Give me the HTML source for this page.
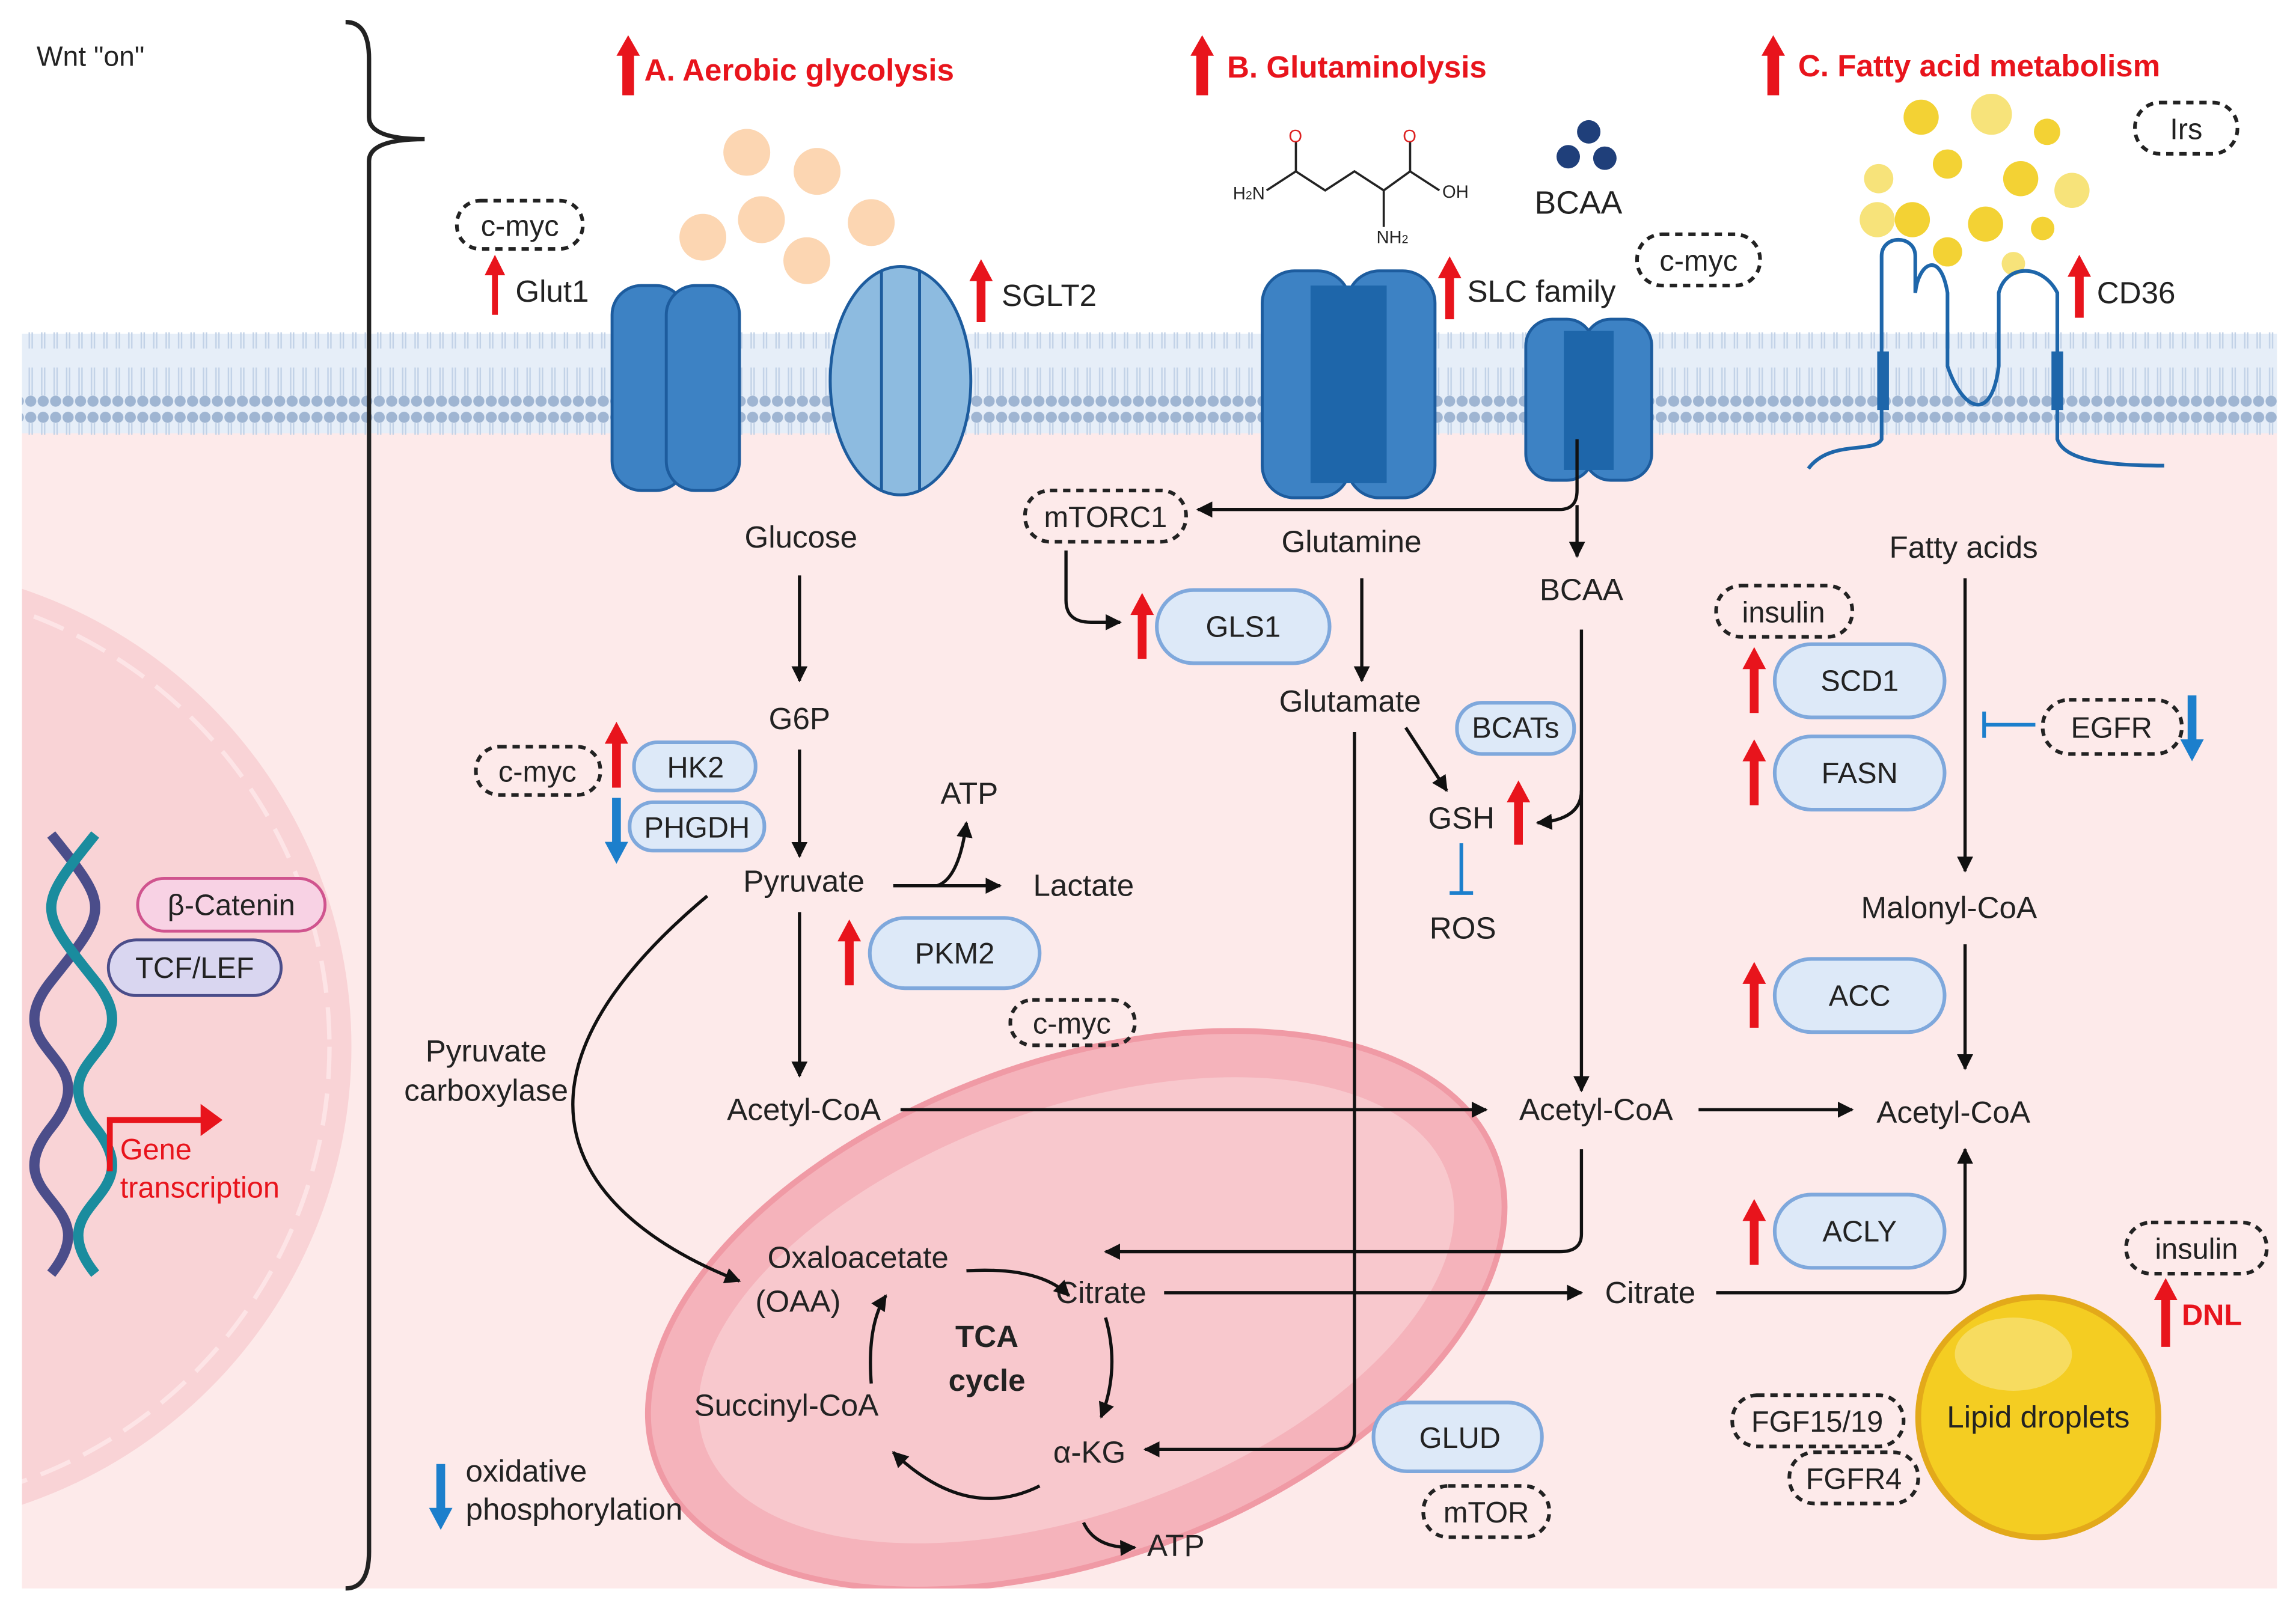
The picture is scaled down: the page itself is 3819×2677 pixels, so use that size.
<!DOCTYPE html>
<html><head><meta charset="utf-8"><style>
html,body{margin:0;padding:0;background:#fff;width:3819px;height:2677px;overflow:hidden;}
svg{display:block;}
text{font-family:"Liberation Sans",sans-serif;fill:#222;}
</style></head><body>
<svg width="3819" height="2677" viewBox="0 0 1568 1099" xmlns="http://www.w3.org/2000/svg">
<defs>
<marker id="ah" viewBox="0 0 10 10" refX="9" refY="5" markerWidth="5" markerHeight="5" orient="auto"><path d="M0,0 L10,5 L0,10 z" fill="#111"/></marker>
<pattern id="dots" width="8.5" height="70" patternUnits="userSpaceOnUse"><circle cx="4" cy="5" r="3.8" fill="#9fb5d2"/><circle cx="4" cy="64" r="3.8" fill="#9fb5d2"/><line x1="3" y1="9" x2="3" y2="28" stroke="#c2d2e7" stroke-width="1"/><line x1="5" y1="9" x2="5" y2="28" stroke="#c2d2e7" stroke-width="1"/><line x1="3" y1="41" x2="3" y2="60" stroke="#c2d2e7" stroke-width="1"/><line x1="5" y1="41" x2="5" y2="60" stroke="#c2d2e7" stroke-width="1"/></pattern>
<clipPath id="cell"><rect x="15" y="290" width="1540" height="795"/></clipPath>
</defs>
<rect width="1568" height="1099" fill="#fff"/>
<rect x="15" y="290" width="1540" height="795" fill="#fdeaea"/>
<g clip-path="url(#cell)">
<circle cx="-90" cy="715" r="330" fill="#f9d3d6"/>
<circle cx="-90" cy="715" r="315" fill="none" stroke="#fde4e6" stroke-width="3" stroke-dasharray="22 10"/>
<ellipse cx="735" cy="895" rx="305" ry="170" transform="rotate(-20 735 895)" fill="#f5b3bb" stroke="#f09aa5" stroke-width="4"/>
<ellipse cx="735" cy="895" rx="270" ry="138" transform="rotate(-20 735 895)" fill="#f8c8cd"/>
</g>
<rect x="15" y="228" width="1540" height="68" fill="#e6eef8"/>
<rect x="15" y="227" width="1540" height="70" fill="url(#dots)"/>
<path d="M236,15 Q252,15 252,40 L252,80 Q252,95 290,95 Q252,95 252,110 L252,1060 Q252,1085 236,1085" fill="none" stroke="#222" stroke-width="3"/>
<text x="25" y="45" font-size="19">Wnt "on"</text>
<path d="M35,570 C75,620 75,620 35,670 C-5,720 75,720 35,770 C-5,820 75,820 35,870" fill="none" stroke="#4b4d8a" stroke-width="7"/>
<path d="M65,570 C25,620 25,620 65,670 C105,720 25,720 65,770 C105,820 25,820 65,870" fill="none" stroke="#1a8c9e" stroke-width="7"/>
<rect x="94" y="600" width="128" height="36" rx="18" fill="#f8d2e4" stroke="#d0548e" stroke-width="2"/>
<text x="158" y="625" font-size="20" text-anchor="middle">β-Catenin</text>
<rect x="74" y="642" width="118" height="38" rx="19" fill="#d9d6f0" stroke="#4b4d8a" stroke-width="2"/>
<text x="133" y="668" font-size="20" text-anchor="middle">TCF/LEF</text>
<path d="M75,800 L75,765 L140,765" fill="none" stroke="#e8141c" stroke-width="4"/>
<path d="M137,754 L152,765 L137,776 z" fill="#e8141c"/>
<text x="82" y="792" font-size="20" style="fill:#e8141c">Gene</text>
<text x="82" y="818" font-size="20" style="fill:#e8141c">transcription</text>
<g fill="#e8141c">
<path d="M425,65 V38 H421 L429,24 L437,38 H433 V65z"/>
<path d="M817,65 V38 H813 L821,24 L829,38 H825 V65z"/>
<path d="M1207,65 V38 H1203 L1211,24 L1219,38 H1215 V65z"/>
</g>
<text x="440" y="55" font-size="21" font-weight="bold" style="fill:#e8141c">A. Aerobic glycolysis</text>
<text x="838" y="53" font-size="21" font-weight="bold" style="fill:#e8141c">B. Glutaminolysis</text>
<text x="1228" y="52" font-size="21" font-weight="bold" style="fill:#e8141c">C. Fatty acid metabolism</text>
<g fill="#fcd6b2"><circle cx="510" cy="104" r="16"/><circle cx="558" cy="117" r="16"/><circle cx="520" cy="150" r="16"/><circle cx="480" cy="162" r="16"/><circle cx="551" cy="178" r="16"/><circle cx="595" cy="152" r="16"/></g>
<path d="M865,130 L885,117 L905,130 L925,117 L945,130 L963,117 M885,117 L885,97 M963,117 L963,97 M963,117 L983,130 M945,130 L945,155" fill="none" stroke="#222" stroke-width="1.5"/>
<text x="880" y="97" font-size="12" style="fill:#d22">O</text><text x="958" y="97" font-size="12" style="fill:#d22">O</text>
<text x="985" y="135" font-size="12">OH</text><text x="842" y="136" font-size="12">H<tspan font-size="8">2</tspan>N</text><text x="940" y="166" font-size="12">NH<tspan font-size="8">2</tspan></text>
<g fill="#1f3f7a"><circle cx="1085" cy="90" r="8"/><circle cx="1071" cy="107" r="8"/><circle cx="1096" cy="108" r="8"/></g>
<text x="1048" y="146" font-size="22">BCAA</text>
<g fill="#f3d234"><circle cx="1312" cy="80" r="12"/><circle cx="1360" cy="78" r="14" fill="#f7e37a"/><circle cx="1398" cy="90" r="9"/><circle cx="1330" cy="112" r="10"/><circle cx="1380" cy="122" r="12"/><circle cx="1283" cy="122" r="10" fill="#f7e37a"/><circle cx="1306" cy="150" r="12"/><circle cx="1356" cy="153" r="12"/><circle cx="1415" cy="130" r="12" fill="#f7e37a"/><circle cx="1395" cy="156" r="8"/><circle cx="1282" cy="150" r="12" fill="#f7e37a"/><circle cx="1330" cy="172" r="10"/><circle cx="1375" cy="180" r="8" fill="#f7e37a"/></g>
<rect x="1458" y="70" width="70" height="35" rx="17" fill="none" stroke="#222" stroke-width="2.5" stroke-dasharray="5 4"/><text x="1493" y="95" font-size="20" text-anchor="middle">Irs</text>
<g stroke="#1d5c9e" stroke-width="2">
<rect x="418" y="195" width="50" height="140" rx="20" fill="#3d82c4"/><rect x="455" y="195" width="50" height="140" rx="20" fill="#3d82c4"/>
<ellipse cx="615" cy="260" rx="48" ry="78" fill="#8dbbe0"/><line x1="602" y1="185" x2="602" y2="335"/><line x1="628" y1="185" x2="628" y2="335"/>
<rect x="862" y="185" width="60" height="155" rx="22" fill="#3d82c4"/><rect x="920" y="185" width="60" height="155" rx="22" fill="#3d82c4"/><rect x="895" y="195" width="52" height="135" fill="#1e66aa" stroke="none"/>
<rect x="1042" y="218" width="46" height="110" rx="18" fill="#3d82c4"/><rect x="1082" y="218" width="46" height="110" rx="18" fill="#3d82c4"/><rect x="1068" y="226" width="34" height="95" fill="#1e66aa" stroke="none"/>
</g>
<path d="M1235,320 C1250,300 1280,310 1285,300 L1285,175 C1285,160 1308,160 1308,175 L1308,200 C1310,180 1325,170 1330,200 L1330,250 C1340,280 1360,290 1365,250 L1365,200 C1370,180 1395,180 1405,200 L1405,300 C1410,315 1440,318 1478,318" fill="none" stroke="#1e66aa" stroke-width="2.5"/>
<rect x="1282" y="240" width="8" height="40" fill="#1e66aa"/><rect x="1401" y="240" width="8" height="40" fill="#1e66aa"/>
<g fill="#e8141c">
<path d="M336,215 V188 H331 L338,174 L345,188 H340 V215z"/>
<path d="M667,220 V192 H662 L670,177 L678,192 H673 V220z"/>
<path d="M987,218 V190 H982 L990,175 L998,190 H993 V218z"/>
<path d="M1417,217 V189 H1412 L1420,174 L1428,189 H1423 V217z"/>
<path d="M418,538 V508 H413 L421,493 L429,508 H424 V538z"/>
<path d="M777,450 V420 H772 L780,405 L788,420 H783 V450z"/>
<path d="M577,673 V643 H572 L580,628 L588,643 H583 V673z"/>
<path d="M1034,577 V548 H1029 L1037,533 L1045,548 H1040 V577z"/>
<path d="M1195,487 V457 H1190 L1198,442 L1206,457 H1201 V487z"/>
<path d="M1195,550 V520 H1190 L1198,505 L1206,520 H1201 V550z"/>
<path d="M1195,702 V672 H1190 L1198,657 L1206,672 H1201 V702z"/>
<path d="M1195,864 V834 H1190 L1198,819 L1206,834 H1201 V864z"/>
<path d="M1476,920 V888 H1471 L1479,873 L1487,888 H1482 V920z"/>
</g>
<g fill="#1c7fcc">
<path d="M418,545 V575 H413 L421,590 L429,575 H424 V545z"/>
<path d="M1494,475 V505 H1489 L1497,520 L1505,505 H1500 V475z"/>
<path d="M298,1000 V1030 H293 L301,1045 L309,1030 H304 V1000z"/>
</g>
<text x="352" y="206" font-size="21">Glut1</text>
<text x="684" y="209" font-size="21">SGLT2</text>
<text x="1002" y="206" font-size="21">SLC family</text>
<text x="1432" y="207" font-size="21">CD36</text>
<g fill="none" stroke="#222" stroke-width="2.5" stroke-dasharray="5 4">
<rect x="312" y="137" width="86" height="33" rx="16"/>
<rect x="1118" y="160" width="84" height="35" rx="17"/>
<rect x="700" y="335" width="110" height="35" rx="17"/>
<rect x="325" y="510" width="85" height="33" rx="16"/>
<rect x="690" y="683" width="85" height="31" rx="15"/>
<rect x="1172" y="400" width="93" height="35" rx="17"/>
<rect x="1395" y="478" width="95" height="37" rx="18"/>
<rect x="1452" y="835" width="96" height="35" rx="17"/>
<rect x="972" y="1015" width="86" height="35" rx="17"/>
<rect x="1183" y="953" width="117" height="35" rx="17"/>
<rect x="1222" y="992" width="88" height="35" rx="17"/>
</g>
<g font-size="20" text-anchor="middle">
<text x="355" y="161">c-myc</text><text x="1160" y="185">c-myc</text><text x="755" y="360">mTORC1</text>
<text x="367" y="534">c-myc</text><text x="732" y="706">c-myc</text><text x="1218" y="425">insulin</text>
<text x="1442" y="504">EGFR</text><text x="1500" y="860">insulin</text><text x="1015" y="1040">mTOR</text>
<text x="1241" y="978">FGF15/19</text><text x="1266" y="1017">FGFR4</text>
</g>
<circle cx="1392" cy="968" r="82" fill="#f4cd22" stroke="#e3a91a" stroke-width="4"/>
<ellipse cx="1375" cy="925" rx="40" ry="25" fill="#f8e27a" opacity="0.7"/>
<text x="1392" y="975" font-size="21" text-anchor="middle">Lipid droplets</text>
<g fill="#dde9f8" stroke="#7fa8dc" stroke-width="2.5">
<rect x="433" y="507" width="83" height="33" rx="16"/>
<rect x="430" y="548" width="92" height="33" rx="16"/>
<rect x="594" y="627" width="116" height="48" rx="24"/>
<rect x="790" y="403" width="118" height="50" rx="25"/>
<rect x="995" y="480" width="80" height="35" rx="17"/>
<rect x="1212" y="440" width="116" height="50" rx="25"/>
<rect x="1212" y="503" width="116" height="50" rx="25"/>
<rect x="1212" y="655" width="116" height="50" rx="25"/>
<rect x="1212" y="816" width="116" height="50" rx="25"/>
<rect x="938" y="958" width="115" height="47" rx="23"/>
</g>
<g font-size="20" text-anchor="middle">
<text x="475" y="531">HK2</text><text x="476" y="572">PHGDH</text><text x="652" y="658">PKM2</text>
<text x="849" y="435">GLS1</text><text x="1035" y="504">BCATs</text><text x="1270" y="472">SCD1</text>
<text x="1270" y="535">FASN</text><text x="1270" y="687">ACC</text><text x="1270" y="848">ACLY</text><text x="997" y="989">GLUD</text>
</g>
<g font-size="21" text-anchor="middle">
<text x="547" y="374">Glucose</text><text x="546" y="498">G6P</text><text x="549" y="609">Pyruvate</text>
<text x="662" y="549">ATP</text><text x="740" y="612">Lactate</text><text x="549" y="765">Acetyl-CoA</text>
<text x="332" y="725">Pyruvate</text><text x="332" y="752">carboxylase</text>
<text x="923" y="377">Glutamine</text><text x="922" y="486">Glutamate</text><text x="1080" y="410">BCAA</text>
<text x="998" y="566">GSH</text><text x="999" y="641">ROS</text>
<text x="1090" y="765">Acetyl-CoA</text><text x="1334" y="767">Acetyl-CoA</text>
<text x="1341" y="381">Fatty acids</text><text x="1331" y="627">Malonyl-CoA</text>
<text x="586" y="866">Oxaloacetate</text><text x="545" y="896">(OAA)</text><text x="752" y="890">Citrate</text>
<text x="1127" y="890">Citrate</text><text x="537" y="967">Succinyl-CoA</text><text x="744" y="999">α-KG</text>
<text x="803" y="1063">ATP</text>
<text x="674" y="920" font-weight="bold">TCA</text><text x="674" y="950" font-weight="bold">cycle</text>
</g>
<text x="318" y="1012" font-size="21">oxidative</text><text x="318" y="1038" font-size="21">phosphorylation</text>
<text x="1490" y="905" font-size="20" font-weight="bold" style="fill:#e8141c">DNL</text>
<g fill="none" stroke="#111" stroke-width="2.2" marker-end="url(#ah)">
<path d="M546,393 V465"/><path d="M546,512 V585"/><path d="M610,605 H683"/>
<path d="M640,605 Q655,600 660,562"/><path d="M546,623 V735"/>
<path d="M615,758 H1015"/><path d="M1160,758 H1265"/>
<path d="M483,612 C330,740 390,830 505,875"/>
<path d="M1077,300 V335 Q1077,348 1065,348 H818"/><path d="M1077,345 V380"/>
<path d="M728,376 V410 Q728,425 745,425 H765"/>
<path d="M930,395 V465"/>
<path d="M925,500 V978 Q925,990 912,990 H782"/>
<path d="M960,497 L988,540"/><path d="M1080,430 V745"/>
<path d="M1080,540 Q1080,560 1050,562"/>
<path d="M1080,785 V843 Q1080,855 1065,855 H755"/>
<path d="M795,883 H1080"/><path d="M1172,883 H1330 Q1342,883 1342,870 V785"/>
<path d="M1342,395 V595"/><path d="M1342,645 V730"/>
<path d="M740,1040 Q748,1058 775,1057"/>
<path d="M660,868 Q710,865 730,885"/><path d="M755,900 Q765,935 752,968"/>
<path d="M710,1015 Q660,1040 610,992"/><path d="M595,945 Q592,905 605,885"/>
</g>
<g stroke="#1c7fcc" stroke-width="2.5"><path d="M998,576 V610 M990,610 H1006"/><path d="M1390,495 H1355 M1355,486 V504"/></g>
</svg>
</body></html>
